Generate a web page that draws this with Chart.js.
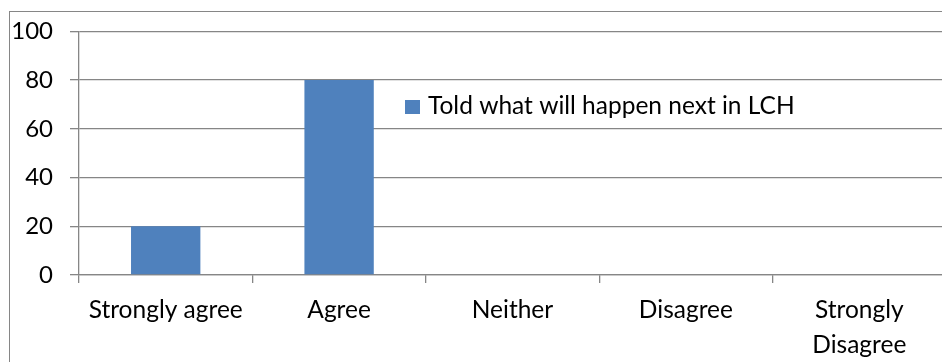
<!DOCTYPE html>
<html>
<head>
<meta charset="utf-8">
<script src="https://cdn.jsdelivr.net/npm/chart.js@4.4.0/dist/chart.umd.min.js"></script>
<style>
  html, body { margin: 0; padding: 0; background: #fff; overflow: hidden; }
  #wrap { width: 942px; height: 362px; overflow: hidden; position: relative; }
  canvas { position: absolute; left: 0; top: 0; }
</style>
</head>
<body>
<div id="wrap"><canvas id="chart" width="960" height="362"></canvas></div>
<script>
// chart data
const categories = ['Strongly agree', 'Agree', 'Neither', 'Disagree', ['Strongly', 'Disagree']];
const seriesLabel = 'Told what will happen next in LCH';
const seriesValues = [20, 80, 0, 0, 0];
const yTicks = [0, 20, 40, 60, 80, 100];

const barColor = '#4F81BD';
const lineColor = '#868686';
const fontFamily = 'Lato, "Open Sans", sans-serif';

// outer frame, cropped on the right and bottom like the source picture
const framePlugin = {
    id: 'frame',
    beforeDraw(chart) {
        const ctx = chart.ctx;
        ctx.save();
        ctx.strokeStyle = lineColor;
        ctx.lineWidth = 1;
        ctx.strokeRect(9.5, 11.5, 1000, 400);
        ctx.restore();
    }
};

// legend drawn inside the plot area
const legendPlugin = {
    id: 'insideLegend',
    afterDraw(chart) {
        const ctx = chart.ctx;
        const ds = chart.data.datasets[0];
        ctx.save();
        ctx.fillStyle = ds.backgroundColor;
        ctx.fillRect(405, 100, 15, 14);
        ctx.fillStyle = '#000';
        ctx.font = '24.5px ' + fontFamily;
        ctx.textBaseline = 'middle';
        ctx.textAlign = 'left';
        ctx.fillText(ds.label, 428, 106);
        ctx.restore();
    }
};

new Chart(document.getElementById('chart').getContext('2d'), {
    type: 'bar',
    data: {
        labels: categories,
        datasets: [{
            label: seriesLabel,
            data: seriesValues,
            backgroundColor: barColor,
            borderWidth: 0,
            categoryPercentage: 1,
            barPercentage: 0.4
        }]
    },
    options: {
        responsive: false,
        animation: false,
        layout: {
            padding: { top: 29, right: 14, left: 0, bottom: 0 }
        },
        plugins: {
            legend: { display: false },
            tooltip: { enabled: false }
        },
        scales: {
            y: {
                min: 0,
                max: 100,
                afterFit(scale) { scale.width = 79; },
                afterBuildTicks(scale) {
                    scale.ticks = yTicks.map(v => ({ value: v }));
                },
                ticks: {
                    color: '#000',
                    padding: 17,
                    font: { family: fontFamily, size: 24 }
                },
                grid: {
                    color: lineColor,
                    lineWidth: 1.3,
                    tickLength: 9
                },
                border: { color: lineColor, width: 1.3 }
            },
            x: {
                afterFit(scale) { scale.height = 87; },
                ticks: {
                    color: '#000',
                    padding: 9,
                    maxRotation: 0,
                    autoSkip: false,
                    font: { family: fontFamily, size: 24.5, lineHeight: 1.45 }
                },
                grid: {
                    offset: true,
                    drawOnChartArea: false,
                    color: lineColor,
                    lineWidth: 1.3,
                    tickLength: 8
                },
                border: { color: lineColor, width: 1.3 }
            }
        }
    },
    plugins: [framePlugin, legendPlugin]
});
</script>
</body>
</html>
